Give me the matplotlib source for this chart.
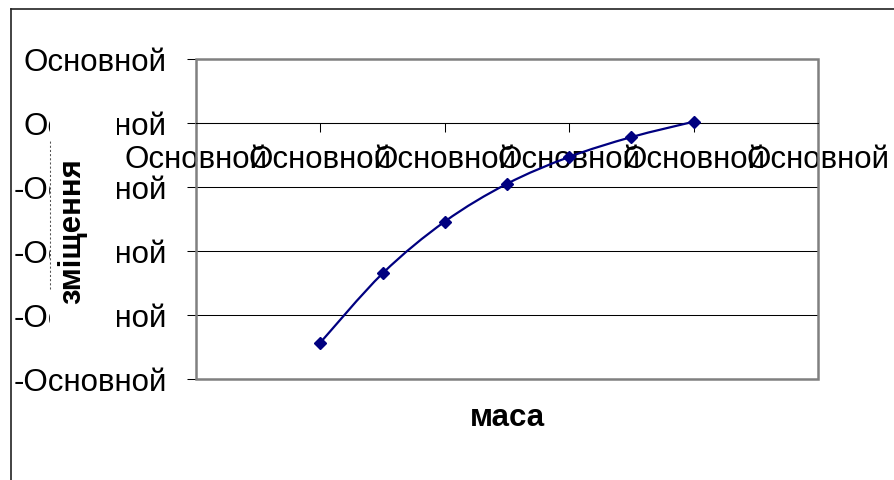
import matplotlib
matplotlib.use('Agg')
import matplotlib.pyplot as plt
import numpy as np
from matplotlib.path import Path
from matplotlib.patches import PathPatch, Rectangle
from matplotlib.lines import Line2D

plt.rcParams['font.family'] = ['Liberation Sans', 'DejaVu Sans']

# ---- data ----
mass = [1.0, 1.5, 2.0, 2.5, 3.0, 3.5, 4.0]
displacement = [-3.43, -2.35, -1.54, -0.95, -0.53, -0.22, 0.02]
x_ticks = [0, 1, 2, 3, 4, 5]
x_tick_labels = ['Основной'] * 6
y_ticks = [1, 0, -1, -2, -3, -4]
y_tick_labels = ['Основной', 'Основной', '-Основной', '-Основной', '-Основной', '-Основной']
x_label = 'маса'
y_label = 'зміщення'

W, H = 894, 481
FS = 22.5
fig = plt.figure(figsize=(W / 100, H / 100), dpi=100)
fig.patch.set_facecolor('white')

ax = fig.add_axes([196 / W, 1 - 380 / H, (818 - 196) / W, (380 - 60) / H])
ax.set_xlim(0, 5)
ax.set_ylim(-4, 1)

for s in ['left', 'top', 'right']:
    ax.spines[s].set_visible(False)
ax.spines['bottom'].set_position(('data', 0))
ax.spines['bottom'].set_color('black')
ax.spines['bottom'].set_linewidth(0.75)

ax.add_patch(Rectangle((0, 0), 1, 1, transform=ax.transAxes, fill=False,
                       ec='#808080', lw=1.8, clip_on=False, zorder=2.5))

ax.set_xticks(x_ticks)
ax.set_xticklabels(x_tick_labels)
ax.set_yticks(y_ticks)
ax.set_yticklabels(y_tick_labels)
ax.yaxis.grid(True, color='black', lw=0.75)
ax.tick_params(axis='y', direction='out', length=6.5, width=0.75, color='black', pad=14.5, labelsize=FS)
ax.tick_params(axis='x', direction='out', length=6.5, width=0.75, color='black', pad=8.5, labelsize=FS)

# smoothed line through the data points
pts = np.column_stack([mass, displacement])
n = len(pts)
verts = [tuple(pts[0])]
codes = [Path.MOVETO]
for i in range(n - 1):
    p0 = pts[max(i - 1, 0)]
    p1 = pts[i]
    p2 = pts[i + 1]
    p3 = pts[min(i + 2, n - 1)]
    c1 = p1 + (p2 - p0) / 6.0
    c2 = p2 - (p3 - p1) / 6.0
    verts += [tuple(c1), tuple(c2), tuple(p2)]
    codes += [Path.CURVE4] * 3
ax.add_patch(PathPatch(Path(verts, codes), fill=False, ec='#000080', lw=1.6, zorder=3))
ax.plot(mass, displacement, ls='none', marker='D', ms=6.5, color='#000080', zorder=4)

# axis titles
fig.text(507 / W, 1 - 426 / H, x_label, ha='center', va='baseline',
         fontsize=FS, fontweight='bold')

fig.add_artist(Rectangle((50 / W, 1 - 340 / H), 67 / W, 240 / H, transform=fig.transFigure,
                         fc='white', ec='none', zorder=5))
fig.add_artist(Line2D([50 / W, 50 / W], [1 - 290 / H, 1 - 140 / H], transform=fig.transFigure,
                      color='#555555', lw=0.75, ls=(0, (2, 2)), zorder=6))
fig.text(80 / W, 1 - 231 / H, y_label, rotation=90, rotation_mode='anchor',
         ha='center', va='baseline', fontsize=FS, fontweight='bold', zorder=7)

# outer chart border
fig.add_artist(Line2D([11 / W, 11 / W], [0, 1 - 10 / H], transform=fig.transFigure,
                      color='#222222', lw=1.2))
fig.add_artist(Line2D([11 / W, 1], [1 - 10 / H, 1 - 10 / H], transform=fig.transFigure,
                      color='#222222', lw=1.2))

fig.savefig('out.png', dpi=100)
